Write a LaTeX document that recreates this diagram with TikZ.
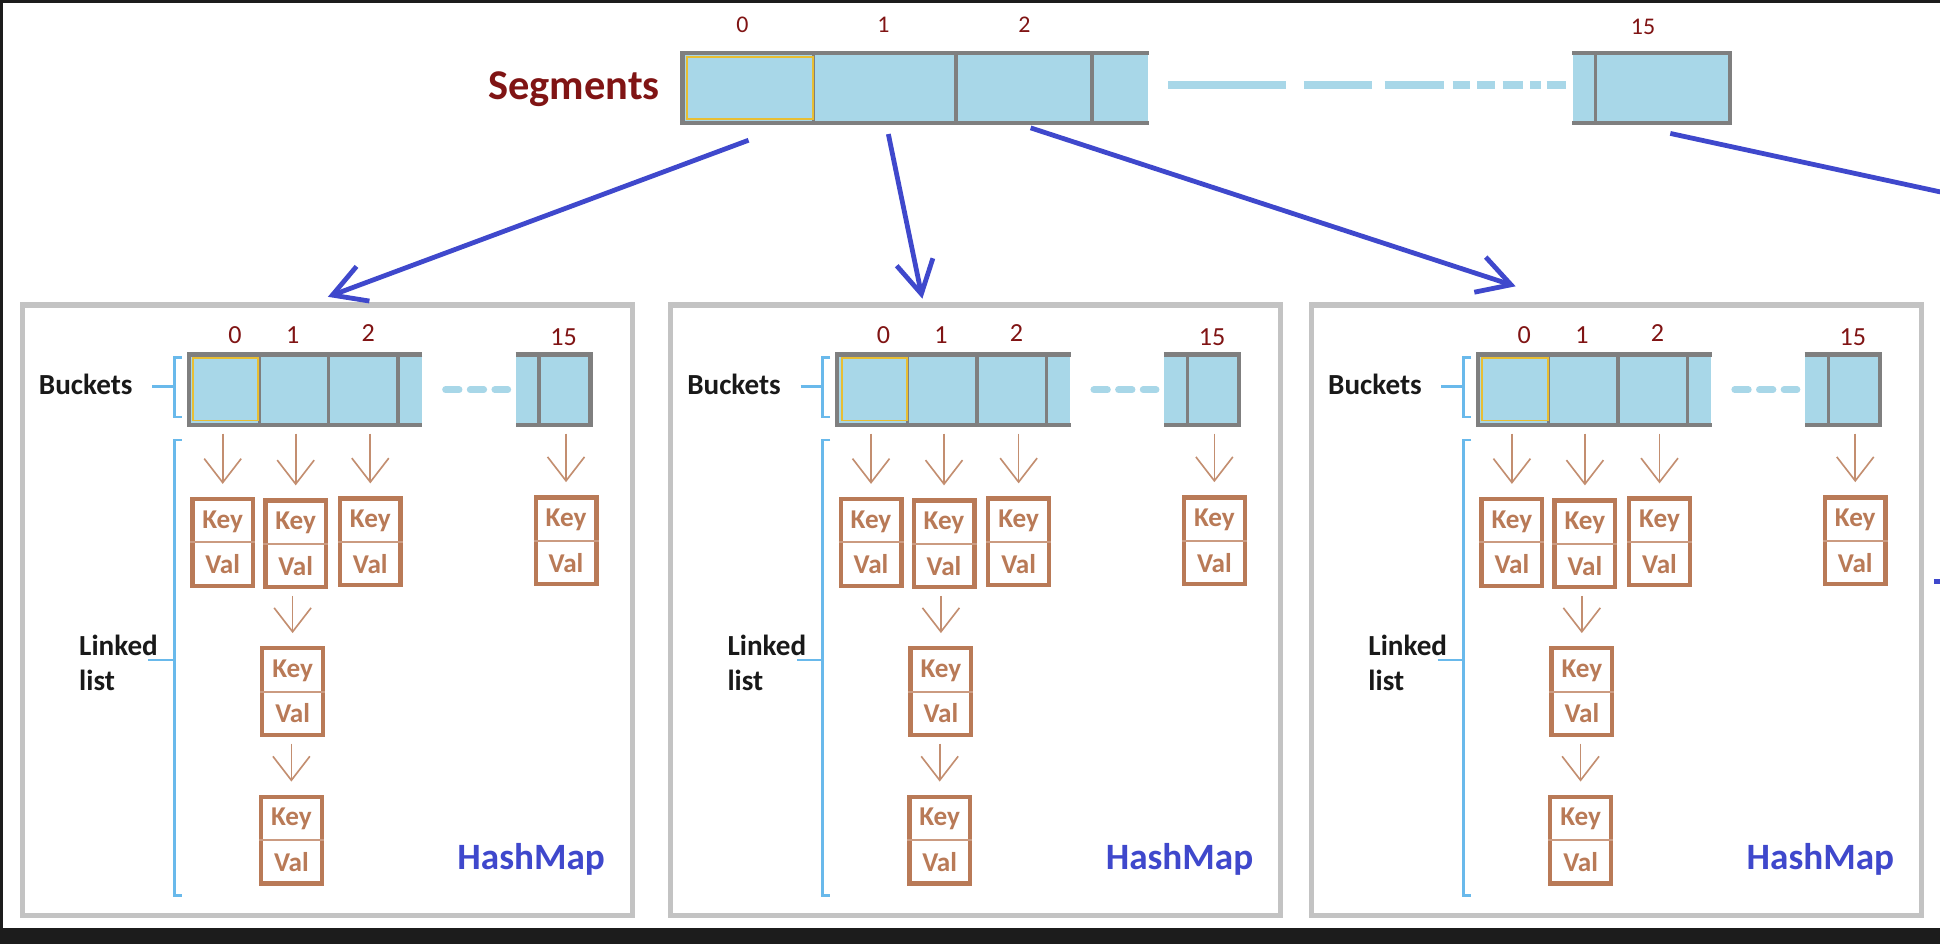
\documentclass[tikz,border=0pt]{standalone}
\usepackage{fontspec}
\setmainfont{Carlito}
\usepackage{tikz}
\usetikzlibrary{math,calc,fit,arrows.meta}
\definecolor{SegRed}{RGB}{128,20,20}
\definecolor{CellBlue}{RGB}{168,215,232}
\definecolor{CellGray}{RGB}{127,127,127}
\definecolor{CellYellow}{RGB}{232,190,50}
\definecolor{BoxGray}{RGB}{195,195,195}
\definecolor{MapBlue}{RGB}{63,72,204}
\definecolor{NodeBrown}{RGB}{185,122,87}
\definecolor{BraceBlue}{RGB}{105,185,235}
\definecolor{FrameDark}{RGB}{28,28,28}
\tikzset{%
  seg cell/.style={fill=CellBlue, inner sep=0pt},
  cell border/.style={draw=CellGray, line width=2pt},
  cell split/.style={draw=CellGray, line width=1.5pt},
  first cell/.style={draw=CellYellow, line width=0.9pt},
  gap dashes/.style={draw=CellBlue, line width=3.6pt,
    dash pattern=on 54.1pt off 8.2pt on 31.2pt off 6pt on 27.5pt off 3.7pt on 8.2pt off 3.2pt
      on 8.2pt off 3.4pt on 9.6pt off 3.1pt on 4.8pt off 2.8pt on 8.8pt off 20pt},
  bucket dashes/.style={draw=CellBlue, line width=3.1pt, line cap=round, dash pattern=on 6.24pt off 5.1pt},
  map box/.style={draw=BoxGray, line width=2.4pt, inner sep=0pt},
  kv box/.style={draw=NodeBrown, line width=2pt, inner sep=0pt, fill=white},
  kv split/.style={draw=NodeBrown!75, line width=1pt},
  seg arrow/.style={draw=MapBlue, line width=2.2pt, -{Straight Barb[length=15pt,width=17pt]}},
  seg line/.style={draw=MapBlue, line width=2.2pt},
  list arrow/.style={draw=NodeBrown!85, line width=0.75pt, -{Straight Barb[length=11pt,width=17pt]},
    shorten <=3pt, shorten >=6pt},
  brace/.style={draw=BraceBlue, line width=1.3pt},
  seg label/.style={text=SegRed, font=\fontsize{19.5}{23}\selectfont\bfseries, inner sep=0pt,
    text height=12.3pt, text depth=0pt},
  seg index/.style={text=SegRed, font=\fontsize{11}{13}\selectfont, inner sep=0pt,
    text height=7pt, text depth=0pt},
  bkt index/.style={seg index, font=\fontsize{12}{14}\selectfont, text height=7.6pt},
  side label/.style={text=black!90, font=\fontsize{13.4}{16.44}\selectfont\bfseries, inner sep=0pt},
  map label/.style={text=MapBlue, font=\fontsize{17.1}{20}\selectfont\bfseries, inner sep=0pt,
    text height=10.8pt, text depth=0pt},
  kv text/.style={text=NodeBrown, font=\fontsize{12.5}{15}\selectfont\bfseries, inner sep=0pt,
    text height=7.9pt, text depth=0pt}
}

\begin{document}
\begin{tikzpicture}[x=0.02cm, y=-0.02cm]
    \tikzmath{
      \W=1568; \H=763;
      \segTop=43; \segBot=99; % segment row
      \bktTop=287; \bktBot=343; % bucket row
      \kvW=49; \kvH=70; % key/val node
    }
    \useasboundingbox (0,0) rectangle (\W,\H);
    \clip (0,0) rectangle (\W,\H);
    \fill[FrameDark] (0,0) rectangle (\W,\H);
    \fill[white] (2.5,2.5) rectangle (\W,750);
    % Segments:
    \node[seg label] (seglabel) at (464,70) {Segments};
    \foreach \cname/\xa/\xb in {seg0/552/658, seg1/658/773, seg2/773/883, seg3/883/928,
                                seg14/1271/1290, seg15/1290/1398} {
      \node[seg cell, fit={(\xa,\segTop) (\xb,\segBot)}] (\cname) {};
    }
    \draw[cell border] (seg3.north east) -- (seg0.north west) -- (seg0.south west) -- (seg3.south east);
    \draw[cell border] (seg14.north west) -- (seg15.north east) -- (seg15.south east) -- (seg14.south west);
    \foreach \cname in {seg1,seg2,seg3,seg15} {
      \draw[cell split] (\cname.north west) -- (\cname.south west);
    }
    \draw[first cell] ($(seg0.north west)+(3.5,3.5)$) rectangle ($(seg0.south east)+(-1.5,-3.5)$);
    \draw[gap dashes] ($(seg3.east)+(16,-2.3)$) -- ($(seg14.west)+(-4.5,-2.3)$);
    \foreach \t/\x/\y in {0/600/20, 1/714/20, 2/828/20, 15/1328/22} {
      \node[seg index] (segidx\t) at (\x,\y) {\t};
    }
    % HashMaps:
    \foreach \i/\dx in {1/0, 2/524, 3/1042} {
      \begin{scope}[shift={(\dx,0)}]
        \node[map box, fit={(18,246.5) (511,740)}] (map\i) {};
        \node[map label] (maplabel\i) at (429.3,693.5) {HashMap};
        % buckets
        \foreach \n/\xa/\xb in {0/153/210, 1/210/266, 2/266/322, 3/322/341, 14/417/436, 15/436/477} {
          \node[seg cell, fit={(\xa,\bktTop) (\xb,\bktBot)}] (bkt\i-\n) {};
        }
        \draw[cell border] (bkt\i-3.north east) -- (bkt\i-0.north west) -- (bkt\i-0.south west) -- (bkt\i-3.south east);
        \draw[cell border] (bkt\i-14.north west) -- (bkt\i-15.north east) -- (bkt\i-15.south east) -- (bkt\i-14.south west);
        \foreach \n in {1,2,3,15} {
          \draw[cell split] (bkt\i-\n.north west) -- (bkt\i-\n.south west);
        }
        \draw[first cell] ($(bkt\i-0.north west)+(3.5,3)$) rectangle ($(bkt\i-0.south east)+(-1.5,-3.5)$);
        \draw[bucket dashes] ($(bkt\i-3.east)+(18.75,0)$) -- ($(bkt\i-14.west)+(-6.25,0)$);
        \foreach \t/\x/\y in {0/190/270.8, 1/236.6/270.8, 2/297.6/269.4, 15/455.6/272.5} {
          \node[bkt index] (bktidx\i-\t) at (\x,\y) {\t};
        }
        % labels and braces
        \node[side label, text height=8.5pt, text depth=0pt] (bktlabel\i) at (69.3,311) {Buckets};
        \node[side label, align=left, anchor=west] (listlabel\i) at (63.7,535.7) {Linked\\list};
        \draw[brace] (147,289) -- (141,289) -- (141,337) -- (147,337);
        \draw[brace] (123,312.5) -- (141,312.5);
        \draw[brace] (147,355.6) -- (141,355.6) -- (141,723.5) -- (147,723.5);
        \draw[brace] (120,533.5) -- (141,533.5);
        % key/val nodes
        \foreach \n/\xa/\ya in {0/155.5/403.4, 1/214.5/404.6, 2/274.8/403, 15/433/402, 1a/212/524, 1b/211/644} {
          \node[kv box, fit={(\xa,\ya) (\xa+\kvW,\ya+\kvH)}] (kv\i-\n) {};
          \draw[kv split] (kv\i-\n.west) -- (kv\i-\n.east);
          \path (kv\i-\n.north) -- (kv\i-\n.center) node[midway, kv text] (key\i-\n) {Key};
          \path (kv\i-\n.center) -- (kv\i-\n.south) node[midway, kv text] (val\i-\n) {Val};
        }
        \foreach \n in {0,1,2,15} {
          \draw[list arrow, shorten <=4pt] (bkt\i-\n.south -| kv\i-\n.north) -- (kv\i-\n.north);
        }
        \draw[list arrow] (kv\i-1.south -| kv\i-1a.north) -- (kv\i-1a.north);
        \draw[list arrow] (kv\i-1a.south -| kv\i-1b.north) -- (kv\i-1b.north);
      \end{scope}
    }
    % Segment pointers:
    \draw[seg arrow] ($(seg0.south)+(0,14)$) -- ($(map1.north)+(0.5,-4.5)$);
    \draw[seg arrow] ($(seg1.south)+(2.5,9)$) -- ($(map2.north)+(-43,-3)$);
    \draw[seg arrow] ($(seg2.south)+(5,4)$) -- ($(map3.north)+(-81.5,-13)$);
    \coordinate (offright) at (1600,162);
    \draw[seg line] ($(seg15.south)+(6,8.5)$) -- (offright);
    \draw[seg line] (1563,470) -- (1570,470);
\end{tikzpicture}
\end{document}
